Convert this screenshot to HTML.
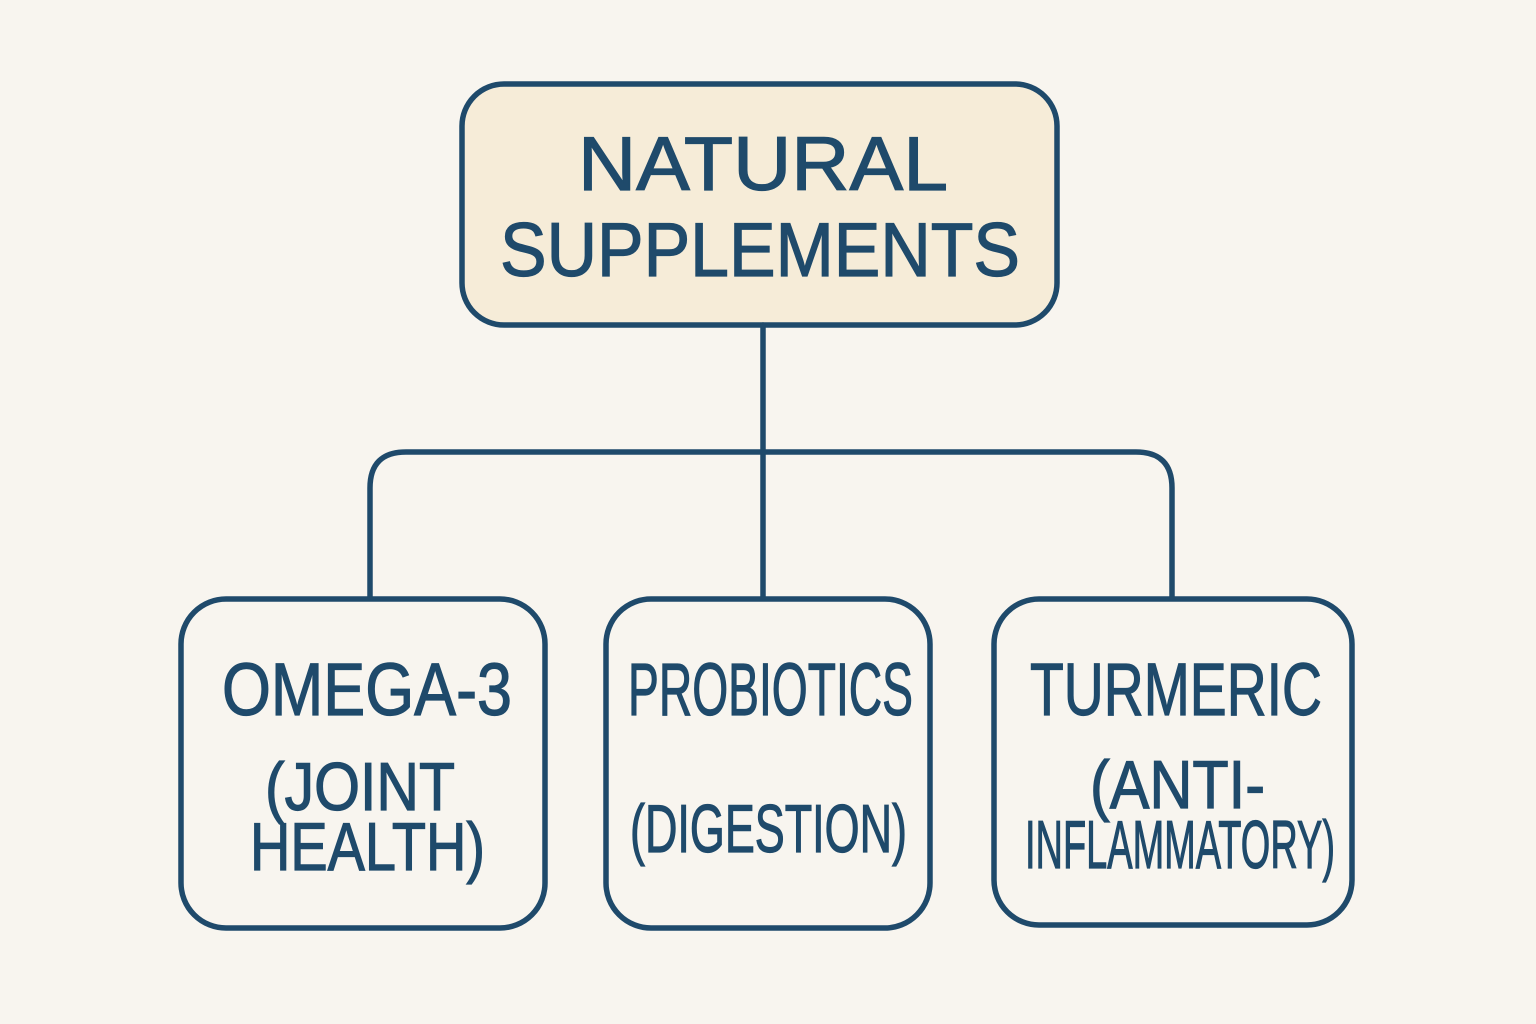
<!DOCTYPE html>
<html><head><meta charset="utf-8"><style>
html,body{margin:0;padding:0;background:#f8f5ef;}
svg{display:block}
text{font-family:"Liberation Sans",sans-serif;fill:#1f4a6b;stroke:#1f4a6b;stroke-width:1.2;}
</style></head><body>
<svg width="1536" height="1024" viewBox="0 0 1536 1024" xmlns="http://www.w3.org/2000/svg">
<rect width="1536" height="1024" fill="#f8f5ef"/>
<g fill="none" stroke="#1f4a6b" stroke-width="5.5" stroke-linecap="round" stroke-linejoin="round">
<rect x="462" y="84" width="595" height="241" rx="42" fill="#f6ecd8"/>
<path d="M763 325 V598"/>
<path d="M370 598 V488 Q370 452 406 452 H1136 Q1172 452 1172 488 V598"/>
<rect x="181" y="599" width="364" height="329" rx="45" fill="#f8f5ef"/>
<rect x="606" y="599" width="324" height="329" rx="45" fill="#f8f5ef"/>
<rect x="994" y="599" width="358" height="326" rx="45" fill="#f8f5ef"/>
</g>
<text x="578" y="190" font-size="76" textLength="370" lengthAdjust="spacingAndGlyphs">NATURAL</text>
<text x="500" y="276" font-size="76" textLength="520" lengthAdjust="spacingAndGlyphs">SUPPLEMENTS</text>
<text x="222" y="715" font-size="74" textLength="290" lengthAdjust="spacingAndGlyphs">OMEGA-3</text>
<text x="265" y="810" font-size="68" textLength="190" lengthAdjust="spacingAndGlyphs">(JOINT</text>
<text x="250" y="870" font-size="68" textLength="235" lengthAdjust="spacingAndGlyphs">HEALTH)</text>
<text x="628" y="715" font-size="74" textLength="285" lengthAdjust="spacingAndGlyphs">PROBIOTICS</text>
<text x="630" y="852" font-size="68" textLength="277" lengthAdjust="spacingAndGlyphs">(DIGESTION)</text>
<text x="1030" y="715" font-size="74" textLength="292" lengthAdjust="spacingAndGlyphs">TURMERIC</text>
<text x="1090" y="808" font-size="68" textLength="175" lengthAdjust="spacingAndGlyphs">(ANTI-</text>
<text x="1025" y="868" font-size="68" textLength="310" lengthAdjust="spacingAndGlyphs">INFLAMMATORY)</text>
</svg>
</body></html>
